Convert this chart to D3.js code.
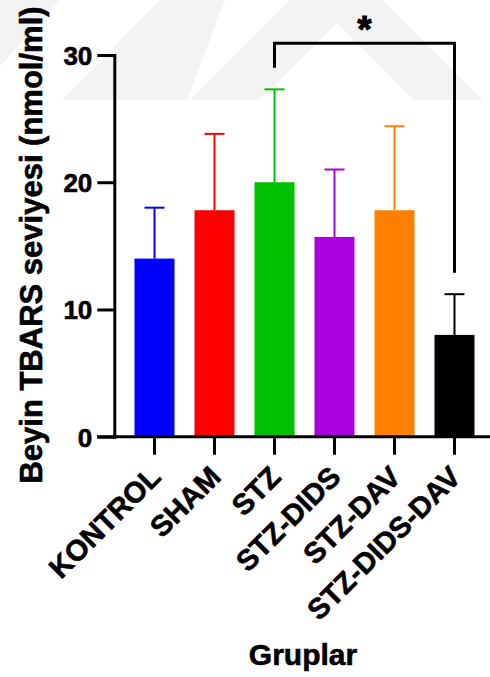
<!DOCTYPE html>
<html>
<head>
<meta charset="utf-8">
<script src="https://cdn.jsdelivr.net/npm/d3@7"></script>
<style>
  html, body { margin: 0; padding: 0; background: #fff; }
  svg { display: block; }
  text { font-family: "Liberation Sans", Arial, Helvetica, sans-serif; font-weight: bold; fill: #000; stroke: #000; stroke-width: 0.6px; }
</style>
</head>
<body>
<svg id="chart" width="490" height="677"></svg>
<script>
// Group names, means and standard deviations of brain TBARS (nmol/ml)
const groups = ["KONTROL", "SHAM", "STZ", "STZ-DIDS", "STZ-DAV", "STZ-DIDS-DAV"];
const means  = [14.0, 17.8, 20.0, 15.7, 17.8, 8.0];
const sds    = [4.0, 6.0, 7.3, 5.3, 6.6, 3.2];
const colors = ["#0000ff", "#ff0000", "#00c000", "#aa00e0", "#ff8000", "#000000"];
const yTicks = [0, 10, 20, 30];
// Significance bracket between two groups
const sigFrom = ["STZ"];
const sigTo   = ["STZ-DIDS-DAV"];
const sigText = ["*"];

const svg = d3.select("#chart");

// faint background watermark shapes
const wm = svg.append("g").attr("fill", "#f3f3f3");
const wmShapes = [
  [[0,0],[60,0],[0,66]],
  [[62,100],[160,0],[225,0],[187,100]],
  [[190,100],[290,0],[383,0],[483,100],[413,100],[337,23],[260,100]]
];
wm.selectAll("polygon").data(wmShapes).join("polygon")
  .attr("points", d => d.map(p => p.join(",")).join(" "));

const y = d3.scaleLinear().domain([0, 30]).range([436.7, 55]);
const x = d3.scaleBand().domain(groups).range([124.5, 484.5])
  .paddingInner(1/3).paddingOuter(1/6);

const rows = groups.map((g, i) => ({ g, m: means[i], sd: sds[i], c: colors[i] }));

// bars
svg.append("g").selectAll("rect").data(rows).join("rect")
  .attr("x", d => x(d.g))
  .attr("width", x.bandwidth())
  .attr("y", d => y(d.m))
  .attr("height", d => y(0) - y(d.m))
  .attr("fill", d => d.c);

// upper error bars (mean + SD)
const eb = svg.append("g").attr("stroke-width", 2);
eb.selectAll("line.v").data(rows).join("line").attr("class", "v")
  .attr("x1", d => x(d.g) + x.bandwidth() / 2)
  .attr("x2", d => x(d.g) + x.bandwidth() / 2)
  .attr("y1", d => y(d.m))
  .attr("y2", d => y(d.m + d.sd))
  .attr("stroke", d => d.c);
eb.selectAll("line.cap").data(rows).join("line").attr("class", "cap")
  .attr("x1", d => x(d.g) + x.bandwidth() / 2 - 10)
  .attr("x2", d => x(d.g) + x.bandwidth() / 2 + 10)
  .attr("y1", d => y(d.m + d.sd))
  .attr("y2", d => y(d.m + d.sd))
  .attr("stroke", d => d.c);

// y axis
const yAxis = svg.append("g")
  .attr("transform", "translate(114.3,0)")
  .call(d3.axisLeft(y).tickValues(yTicks).tickSize(17).tickSizeOuter(0).tickPadding(5));
yAxis.select(".domain").attr("stroke-width", 3).attr("stroke-linecap", "square");
yAxis.selectAll(".tick line").attr("stroke-width", 3);
yAxis.selectAll(".tick text")
  .style("font-size", "26px").style("font-family", "'Liberation Sans', Arial, sans-serif")
  .style("font-weight", "bold").attr("dy", "0.36em");

// x axis
const xAxis = svg.append("g")
  .attr("transform", `translate(0,${y(0)})`)
  .call(d3.axisBottom(x).tickSize(18).tickSizeOuter(0));
xAxis.select(".domain").remove();
xAxis.append("line")
  .attr("x1", 97).attr("x2", 490).attr("y1", 0).attr("y2", 0)
  .attr("stroke", "#000").attr("stroke-width", 3);
xAxis.selectAll(".tick line").attr("stroke-width", 3);
xAxis.selectAll(".tick text")
  .style("font-size", "29px").style("font-family", "'Liberation Sans', Arial, sans-serif")
  .style("font-weight", "bold")
  .attr("text-anchor", "end")
  .attr("dy", 0)
  .attr("y", 0)
  .attr("transform", "translate(8,42) rotate(-45)");

// axis titles
svg.append("text")
  .attr("transform", "translate(42,245) rotate(-90)")
  .attr("text-anchor", "middle")
  .style("font-size", "31px")
  .text("Beyin TBARS seviyesi (nmol/ml)");

svg.append("text")
  .attr("x", 303).attr("y", 665)
  .attr("text-anchor", "middle")
  .style("font-size", "30px")
  .text("Gruplar");

// significance bracket
sigFrom.forEach((from, k) => {
  const a = rows.find(r => r.g === from);
  const b = rows.find(r => r.g === sigTo[k]);
  const xa = x(a.g) + x.bandwidth() / 2;
  const xb = x(b.g) + x.bandwidth() / 2;
  const topA = y(a.m + a.sd), topB = y(b.m + b.sd);
  const top = Math.min(topA, topB) - 46;
  svg.append("path")
    .attr("d", `M${xa},${topA - 21.5}V${top}H${xb}V${topB - 21.5}`)
    .attr("fill", "none").attr("stroke", "#000").attr("stroke-width", 3);
  svg.append("text")
    .attr("x", (xa + xb) / 2).attr("y", top - 1)
    .attr("text-anchor", "middle")
    .style("font-size", "36px")
    .style("stroke-width", "1.2px")
    .text(sigText[k]);
});
</script>
</body>
</html>
